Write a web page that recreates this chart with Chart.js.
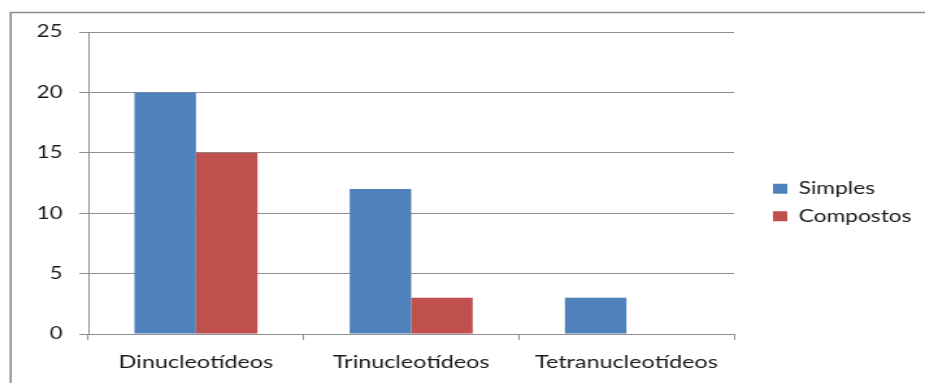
<!DOCTYPE html>
<html>
<head>
<meta charset="utf-8">
<script src="https://cdn.jsdelivr.net/npm/chart.js@4"></script>
<style>
  html, body { margin: 0; padding: 0; background: #fff; overflow: hidden; }
</style>
</head>
<body>
<!-- the canvas is drawn narrower and shown stretched to the page width -->
<canvas id="c" width="712" height="383" style="display:block;width:925px;height:383px"></canvas>
<script>
const categories = ['Dinucleotídeos', 'Trinucleotídeos', 'Tetranucleotídeos'];
const simples = [20, 12, 3];
const compostos = [15, 3, 0];
const seriesNames = ['Simples', 'Compostos'];
const yTicks = [0, 5, 10, 15, 20, 25];

const FONT = "Lato, 'Open Sans', sans-serif";
const GRID = '#8e8e8e';

// Thin gray frame around the chart (left and top edges)
const framePlugin = {
  id: 'frame',
  beforeDraw(chart) {
    const ctx = chart.ctx;
    ctx.save();
    ctx.fillStyle = '#ffffff';
    ctx.fillRect(0, 0, chart.width, chart.height);
    ctx.strokeStyle = '#8a8a8a';
    ctx.lineWidth = 1.6;
    ctx.beginPath();
    ctx.moveTo(8.2, chart.height);
    ctx.lineTo(8.2, 12.5);
    ctx.lineTo(chart.width, 12.5);
    ctx.stroke();
    ctx.restore();
  }
};

new Chart(document.getElementById('c'), {
  type: 'bar',
  data: {
    labels: categories,
    datasets: [
      { label: seriesNames[0], data: simples, backgroundColor: '#4F81BD' },
      { label: seriesNames[1], data: compostos, backgroundColor: '#C0504D' }
    ]
  },
  options: {
    responsive: false,
    animation: false,
    devicePixelRatio: 1,
    layout: { padding: { top: 32, left: 0, right: 10, bottom: 10 } },
    datasets: {
      bar: { categoryPercentage: 2 / 3.5, barPercentage: 1.0, borderWidth: 0 }
    },
    plugins: {
      tooltip: { enabled: false },
      legend: {
        position: 'right',
        labels: {
          boxWidth: 11,
          boxHeight: 10,
          padding: 10,
          color: '#1a1a1a',
          font: { family: FONT, size: 17.5 }
        }
      }
    },
    scales: {
      x: {
        grid: {
          offset: true,
          drawOnChartArea: false,
          drawTicks: true,
          tickLength: 6,
          color: GRID
        },
        border: { display: true, color: GRID },
        ticks: {
          color: '#1a1a1a',
          padding: 11,
          font: { family: FONT, size: 18 }
        },
        afterFit(scale) { scale.height = 39; }
      },
      y: {
        min: 0,
        max: 25,
        afterBuildTicks(scale) { scale.ticks = yTicks.map(v => ({ value: v })); },
        grid: {
          color: GRID,
          tickLength: 7,
          drawTicks: true
        },
        border: { display: true, color: GRID },
        ticks: {
          color: '#1a1a1a',
          padding: 13,
          font: { family: FONT, size: 17 }
        },
        afterFit(scale) { scale.width = 68; }
      },
      // empty spacer between the plot and the legend
      gap: {
        type: 'linear',
        position: 'right',
        display: true,
        grid: { display: false, drawTicks: false },
        border: { display: false },
        ticks: { display: false },
        afterFit(scale) { scale.width = 20; }
      }
    }
  },
  plugins: [framePlugin]
});
</script>
</body>
</html>
